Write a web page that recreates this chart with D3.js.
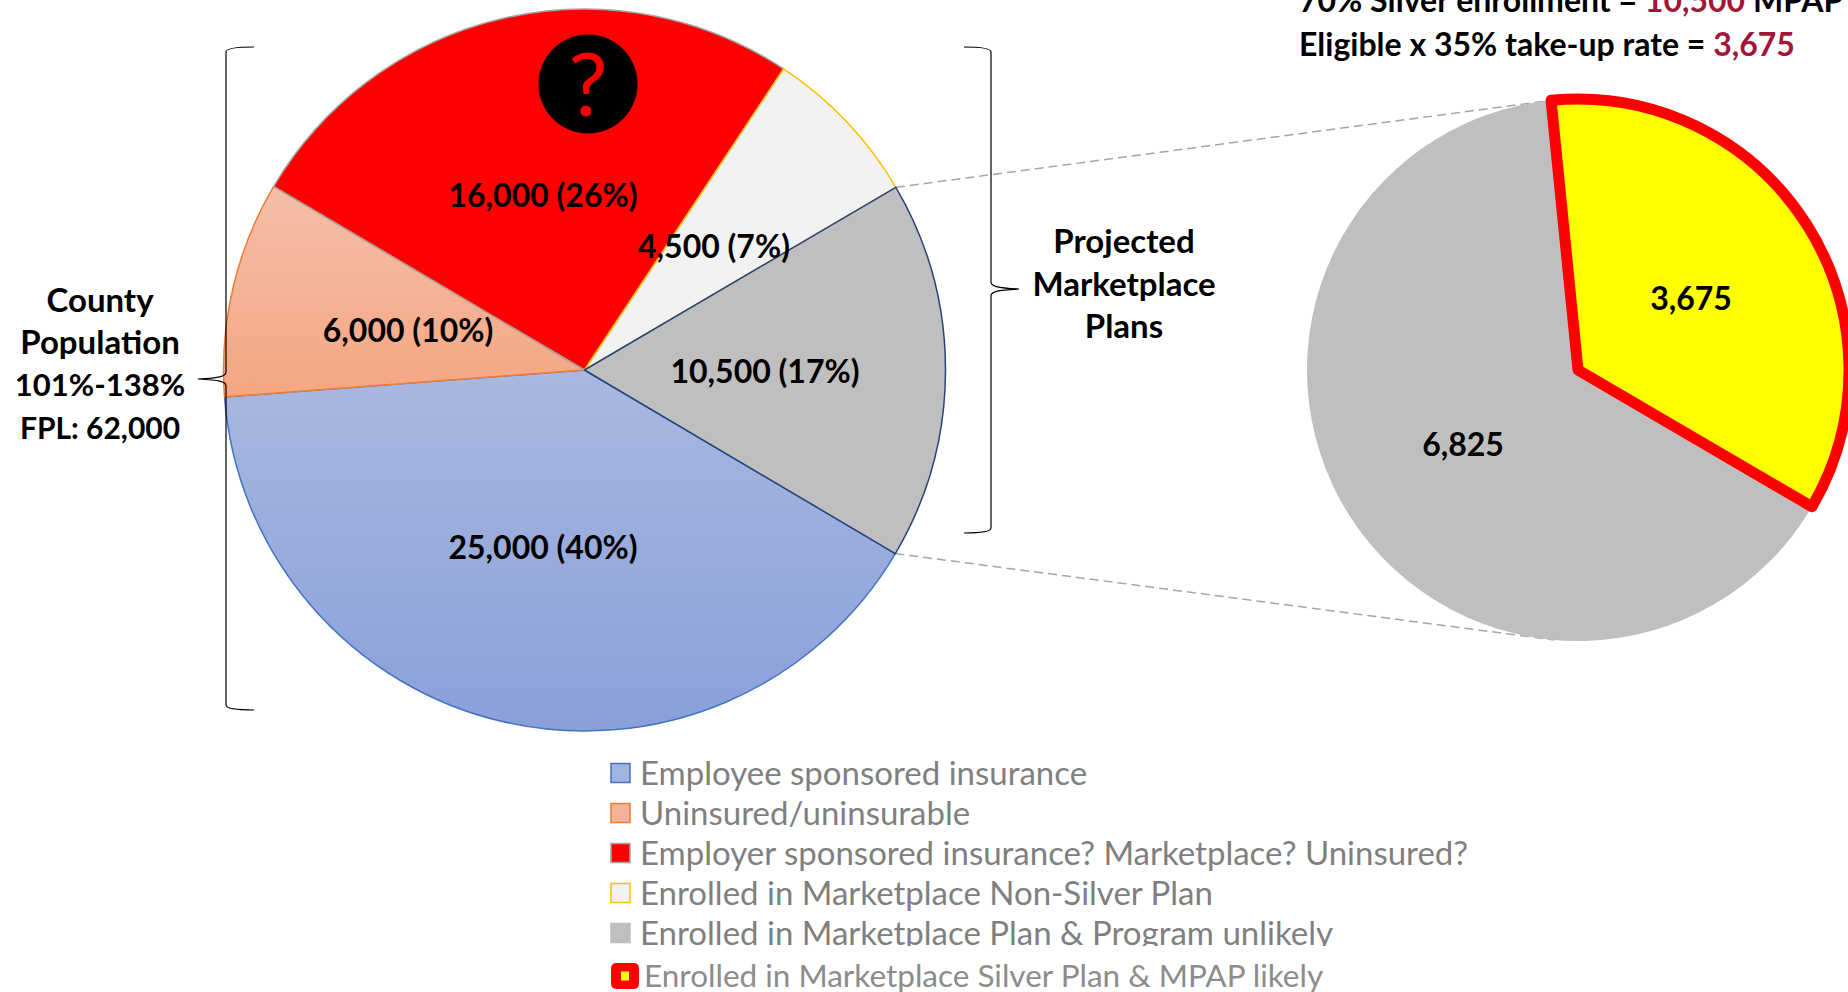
<!DOCTYPE html>
<html><head><meta charset="utf-8">
<script src="https://cdn.jsdelivr.net/npm/d3@7"></script>
<style>html,body{margin:0;padding:0;background:#fff;overflow:hidden}svg{display:block}text{font-family:Lato,"Noto Sans",sans-serif}</style>
</head><body><svg id="c" width="1848" height="992"></svg>
<script>
// ---- data
const mainCategories = ["Enrolled in Marketplace Plan & Program unlikely","Employee sponsored insurance","Uninsured/uninsurable","Employer sponsored insurance? Marketplace? Uninsured?","Enrolled in Marketplace Non-Silver Plan"];
const mainValues = [10500,25000,6000,16000,4500];
const mainLabels = ["10,500 (17%)","25,000 (40%)","6,000 (10%)","16,000 (26%)","4,500 (7%)"];
const subCategories = ["Enrolled in Marketplace Silver Plan & MPAP likely","Enrolled in Marketplace Plan & Program unlikely"];
const subValues = [3675,6825];
const subLabels = ["3,675","6,825"];
const legendEntries = ["Employee sponsored insurance","Uninsured/uninsurable","Employer sponsored insurance? Marketplace? Uninsured?","Enrolled in Marketplace Non-Silver Plan","Enrolled in Marketplace Plan & Program unlikely","Enrolled in Marketplace Silver Plan & MPAP likely"];
const leftNote = ["County","Population","101%-138%","FPL: 62,000"];
const rightNote = ["Projected","Marketplace","Plans"];

// ---- layout & style
const svg = d3.select("#c");
const rad = d => d*Math.PI/180;
const mainC = {x:584.5,y:370,r:361}, subC = {x:1578,y:370,r:271};
const mainStyle = [
 {fill:"#bfbfbf",stroke:"#264478"},{fill:"url(#gBlue)",stroke:"#4472c4"},
 {fill:"url(#gOrange)",stroke:"#ed7d31"},{fill:"#ff0000",stroke:"#a5a5a5"},{fill:"#f2f2f2",stroke:"#ffc000"}];
const mainLabelXY = [[765,370],[543,546],[408,329],[543,194],[714,245]];
const subLabelXY = [[1691,297],[1463,443]];

const defs = svg.append("defs");
function grad(id,a,b){
  const g = defs.append("linearGradient").attr("id",id).attr("x1",0).attr("x2",0).attr("y1",0).attr("y2",1);
  g.append("stop").attr("offset",0).attr("stop-color",a);
  g.append("stop").attr("offset",1).attr("stop-color",b);
}
grad("gBlue","#a9b8e0","#8aa0d9");
grad("gOrange","#f5bfa9","#f5a682");

// connector lines (behind pies)
const conn = svg.append("g").attr("stroke","#a5a5a5").attr("stroke-width",1.5).attr("stroke-dasharray","9 5").attr("fill","none");
const pt = (c,a) => [c.x+c.r*Math.sin(rad(a)), c.y-c.r*Math.cos(rad(a))];
const mainStart = 59.6;
[[mainStart,-5.7],[mainStart+mainValues[0]/d3.sum(mainValues)*360,185]].forEach(([a,b])=>{
  const p=pt(mainC,a), q=pt(subC,b);
  conn.append("line").attr("x1",p[0]).attr("y1",p[1]).attr("x2",q[0]).attr("y2",q[1]);
});

// main pie
const mainPie = d3.pie().sort(null).startAngle(rad(mainStart)).endAngle(rad(mainStart+360))(mainValues);
const arcMain = d3.arc().innerRadius(0).outerRadius(mainC.r);
const gMain = svg.append("g").attr("transform",`translate(${mainC.x},${mainC.y})`);
gMain.selectAll("path").data(mainPie).join("path").attr("d",arcMain)
  .attr("fill",(d,i)=>mainStyle[i].fill).attr("stroke",(d,i)=>mainStyle[i].stroke).attr("stroke-width",1.5).attr("stroke-linejoin","round");
gMain.selectAll("path").filter((d,i)=>i===0).raise();

// sub pie
const subStart = -5.7;
const subPie = d3.pie().sort(null).startAngle(rad(subStart)).endAngle(rad(subStart+360))(subValues);
const arcSub = d3.arc().innerRadius(0).outerRadius(subC.r);
const gSub = svg.append("g").attr("transform",`translate(${subC.x},${subC.y})`);
gSub.append("path").datum(subPie[1]).attr("d",arcSub).attr("fill","#bfbfbf");
gSub.append("path").datum(subPie[0]).attr("d",arcSub).attr("fill","#ffff00").attr("stroke","#ff0000").attr("stroke-width",11).attr("stroke-linejoin","round");

// question badge
svg.append("circle").attr("cx",588).attr("cy",84).attr("r",49.5).attr("fill","#000");
svg.append("text").attr("x",588).attr("y",116).attr("text-anchor","middle").attr("font-size",88).attr("fill","#ff0000").text("?");

// braces
const brace = svg.append("g").attr("fill","none").attr("stroke","#000").attr("stroke-width",1.2);
brace.append("path").attr("d","M254,47 C240,47 226,48 226,52 L226,372 C226,376 221,378 198,379 C221,380 226,382 226,386 L226,705 C226,709 240,710 254,710");
brace.append("path").attr("d","M964,47 C978,47 991,48 991,52 L991,282 C991,286 996,288 1019,289 C996,290 991,292 991,296 L991,528 C991,532 978,533 964,533");

// labels
const lab = (x,y,t,fs=32,col="#000",w=700) => svg.append("text").attr("x",x).attr("y",y).attr("text-anchor","middle").attr("dominant-baseline","central").attr("font-size",fs).attr("font-weight",w).attr("fill",col).text(t);
mainLabels.forEach((t,i)=>lab(mainLabelXY[i][0],mainLabelXY[i][1],t));
subLabels.forEach((t,i)=>lab(subLabelXY[i][0],subLabelXY[i][1],t));
const leftSizes = [33,33,31,30];
[299,341,384,427].forEach((y,i)=>lab(100,y,leftNote[i],leftSizes[i]));
[240,283,325].forEach((y,i)=>lab(1124,y,rightNote[i],33));

// top-right note
function rich(y,parts){
  const t = svg.append("text").attr("x",1299).attr("y",y).attr("font-size",32).attr("font-weight",700);
  parts.forEach(([s,c])=>t.append("tspan").attr("fill",c).text(s));
}
rich(12,[["70% Silver enrollment = ","#000"],["10,500","#a31638"],[" MPAP","#000"]]);
rich(56,[["Eligible x 35% take-up rate = ","#000"],["3,675","#a31638"]]);

// legend
const legY = [773,813,853,893,933,976];
const swatch = [
 {fill:"#a3b3df",stroke:"#4472c4"},{fill:"#f5b299",stroke:"#ed7d31"},{fill:"#ff0000",stroke:"#a5a5a5"},
 {fill:"#f2f2f2",stroke:"#ffc000"},{fill:"#bfbfbf",stroke:"#bfbfbf"}];
defs.append("clipPath").attr("id","row5").append("rect").attr("x",600).attr("y",900).attr("width",900).attr("height",46);
legendEntries.forEach((t,i)=>{
  if(i<5){
    svg.append("rect").attr("x",611).attr("y",legY[i]-9.5).attr("width",19).attr("height",19).attr("fill",swatch[i].fill).attr("stroke",swatch[i].stroke).attr("stroke-width",1.5);
  } else {
    svg.append("rect").attr("x",611).attr("y",legY[i]-13).attr("width",28).attr("height",26).attr("rx",5).attr("fill","#ff0000");
    svg.append("rect").attr("x",621).attr("y",legY[i]-4.5).attr("width",8).attr("height",9).attr("fill","#ffff00");
  }
  const tx = svg.append("text").attr("x",i<5?640:644).attr("y",legY[i]-1).attr("dominant-baseline","central").attr("font-size",i<5?33:31.5).attr("fill",i<5?"#7f7f7f":"#8c8c8c").text(t);
  if(i===4) tx.attr("clip-path","url(#row5)");
});
</script></body></html>
